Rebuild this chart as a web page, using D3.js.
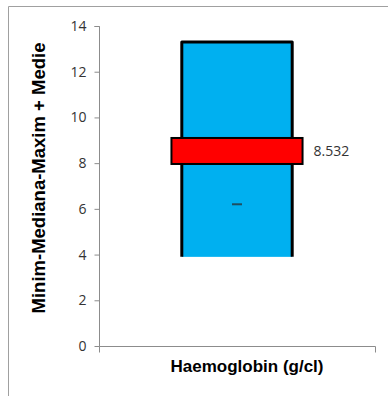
<!DOCTYPE html>
<html>
<head>
<meta charset="utf-8">
<script src="https://cdn.jsdelivr.net/npm/d3@7"></script>
<style>
  html, body { margin: 0; padding: 0; background: #fff; }
  svg { display: block; }
</style>
</head>
<body>
<svg id="chart" width="388" height="396"></svg>
<script>
// Summary statistics per measured parameter
const categories = ["Haemoglobin (g/cl)"];
const minValues = [3.9];
const maxValues = [13.3];
const medianValues = [6.2];
const meanValues = [8.532];
const yTicks = [0, 2, 4, 6, 8, 10, 12, 14];

const svg = d3.select("#chart");

// Outer frame (left and top edges)
svg.append("path")
  .attr("d", "M8.5,396 V6.5 H388")
  .attr("fill", "none")
  .attr("stroke", "#a0a0a0")
  .attr("stroke-width", 1);

const x = d3.scaleBand().domain(categories).range([99, 375]).paddingInner(0).paddingOuter(0);
const y = d3.scaleLinear().domain([0, 14]).range([346, 26]);

// Y axis
const yAxis = svg.append("g")
  .attr("transform", "translate(99.5,0)")
  .call(d3.axisLeft(y).tickValues(yTicks).tickSize(5).tickPadding(8).tickFormat(d3.format("d")));
yAxis.select(".domain").attr("stroke", "#8c8c8c").attr("d", "M-5,26.5H0V346.5");
yAxis.selectAll(".tick line").attr("stroke", "#8c8c8c");
yAxis.selectAll(".tick text")
  .attr("fill", "#333")
  .style("font-family", "'Open Sans', 'Noto Sans', sans-serif")
  .style("font-size", "14px");

// X axis
const xAxis = svg.append("g")
  .attr("transform", "translate(0,346.5)")
  .call(d3.axisBottom(x).tickSize(0).tickFormat(""));
xAxis.select(".domain").attr("stroke", "#8c8c8c").attr("d", "M99.5,6V0H375.5V6");

const boxW = x.bandwidth() * 0.40;
const bandW = x.bandwidth() * 0.475;
const bandH = 26;

const rows = categories.map((c, i) => ({
  cat: c, min: minValues[i], max: maxValues[i], median: medianValues[i], mean: meanValues[i]
}));

const g = svg.append("g");

// Min-max range box
g.selectAll(".range").data(rows).join("rect")
  .attr("class", "range")
  .attr("x", d => x(d.cat) + x.bandwidth() / 2 - boxW / 2)
  .attr("y", d => y(d.max))
  .attr("width", boxW)
  .attr("height", d => y(d.min) - y(d.max))
  .attr("fill", "#00b0f0");

// Box outline: left, top, right edges
g.selectAll(".outline").data(rows).join("path")
  .attr("class", "outline")
  .attr("d", d => {
    const x0 = x(d.cat) + x.bandwidth() / 2 - boxW / 2;
    const x1 = x0 + boxW;
    return `M${x0},${y(d.min)}V${y(d.max)}H${x1}V${y(d.min)}`;
  })
  .attr("fill", "none")
  .attr("stroke", "#000")
  .attr("stroke-width", 3)
  .attr("stroke-linejoin", "round");

// Median marker
g.selectAll(".median").data(rows).join("line")
  .attr("class", "median")
  .attr("x1", d => x(d.cat) + x.bandwidth() / 2 - 5)
  .attr("x2", d => x(d.cat) + x.bandwidth() / 2 + 5)
  .attr("y1", d => y(d.median))
  .attr("y2", d => y(d.median))
  .attr("stroke", "#1f4e60")
  .attr("stroke-width", 2);

// Mean band
g.selectAll(".mean").data(rows).join("rect")
  .attr("class", "mean")
  .attr("x", d => x(d.cat) + x.bandwidth() / 2 - bandW / 2)
  .attr("y", d => y(d.mean) - bandH / 2)
  .attr("width", bandW)
  .attr("height", bandH)
  .attr("fill", "#ff0000")
  .attr("stroke", "#000")
  .attr("stroke-width", 2);

// Mean value label
g.selectAll(".mean-label").data(rows).join("text")
  .attr("class", "mean-label")
  .attr("x", d => x(d.cat) + x.bandwidth() / 2 + bandW / 2 + 11)
  .attr("y", d => y(d.mean) + 5)
  .attr("fill", "#333")
  .style("font-family", "'Open Sans', 'Noto Sans', sans-serif")
  .style("font-size", "14px")
  .text(d => d.mean.toFixed(3));

// Axis titles
svg.append("text")
  .attr("x", 247)
  .attr("y", 372)
  .attr("text-anchor", "middle")
  .attr("fill", "#000")
  .style("font-family", "'Liberation Sans', Arial, sans-serif")
  .style("font-weight", "bold")
  .style("font-size", "17px")
  .text(categories[0]);

svg.append("text")
  .attr("transform", "translate(45,178) rotate(-90)")
  .attr("text-anchor", "middle")
  .attr("fill", "#000")
  .style("font-family", "'Liberation Sans', Arial, sans-serif")
  .style("font-weight", "bold")
  .style("font-size", "18.5px")
  .text("Minim-Mediana-Maxim + Medie");
</script>
</body>
</html>
